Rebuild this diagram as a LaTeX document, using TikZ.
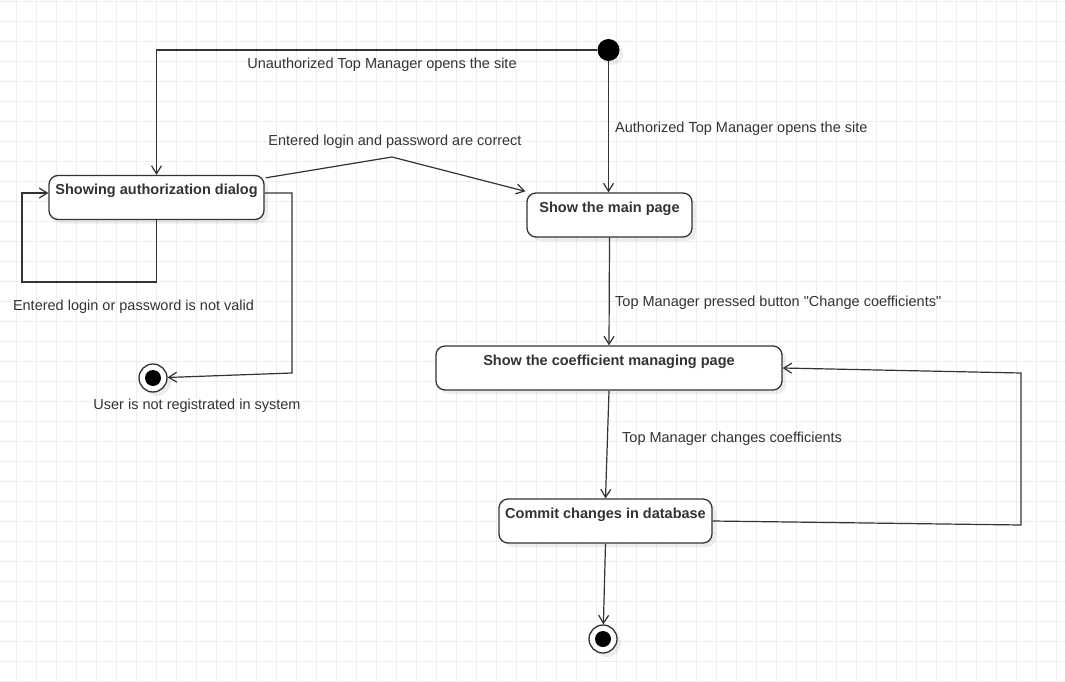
\documentclass[tikz,border=0pt]{standalone}
\usepackage{fontspec}
\setmainfont{Liberation Sans}
\usetikzlibrary{arrows.meta,shadows,calc}
\definecolor{ink}{HTML}{333333}
\definecolor{gridc}{HTML}{EEEEEE}

\begin{document}
\begin{tikzpicture}[x=1pt,y=-1pt,
  softshadow/.style={drop shadow={shadow xshift=4pt, shadow yshift=-4pt, fill=black, opacity=0.07}},
  state/.style={draw=ink, line width=1.3pt, rounded corners=9pt, fill=white,
    minimum height=44pt, inner xsep=0pt, inner ysep=4pt,
    text height=15pt, text depth=21pt, text=ink,
    font=\fontsize{14.5}{17}\selectfont\bfseries, softshadow},
  startnode/.style={circle, fill=black, minimum size=22pt, inner sep=0pt, softshadow},
  endnode/.style={circle, draw=ink, line width=1.3pt, fill=white, minimum size=28pt, inner sep=0pt, softshadow,
    path picture={\fill[black] (path picture bounding box.center) circle (8pt);}},
  lbl/.style={font=\fontsize{14.5}{17}\selectfont, text=ink, inner sep=0pt},
  flow/.style={draw=ink, line width=1.2pt, -{Straight Barb[length=8pt,width=10pt]}},
]
\useasboundingbox (0,0) rectangle (1065,682);
\fill[white] (0,0) rectangle (1065,682);

% background grid
\foreach \i in {1,...,53} \draw[gridc, line width=1pt] ({-4+20*\i},0) -- ({-4+20*\i},682);
\foreach \j in {0,...,34} \draw[gridc, line width=1pt] (0,{1.7+20*\j}) -- (1065,{1.7+20*\j});

% states
\node[startnode] (init) at (608.5,50) {};
\node[state, minimum width=215pt] (auth) at (156.5,197.5) {Showing authorization dialog};
\node[state, minimum width=165pt] (main) at (609.5,215) {Show the main page};
\node[state, minimum width=346pt] (coef) at (609,368) {Show the coefficient managing page};
\node[state, minimum width=213pt] (commit) at (605.5,521) {Commit changes in database};
\node[endnode] (fin1) at (153,378) {};
\node[endnode] (fin2) at (603,639) {};

% bend points
\coordinate (k1) at (392,157);
\coordinate (l1) at (22,282);
\coordinate (r1) at (292,373);
\coordinate (c1) at (1021,525);
\coordinate (c2) at (1021,373);

% transitions
\draw[flow] (init.west) -| (auth.north);
\draw[flow] (init.south) -- (init |- main.north);
\draw[flow] ($(auth.north east)+(1,3)$) -- (k1) -- ($(main.north west)+(-1,-1)$);
\draw[flow] (auth.south) -- (auth.south |- l1) -- (l1) |- ($(auth.west)+(0,-4.5)$);
\draw[flow] ($(auth.east)+(0,-4.5)$) -| (r1) -- (fin1);
\draw[flow] (main.south) -- (coef.north);
\draw[flow] (coef.south) -- (commit.north);
\draw[flow] (commit.east) -- (c1) -- (c2) -- (coef.east);
\draw[flow] (commit.south) -- (fin2);

% transition labels
\node[lbl] (t1) at (382,64.5) {Unauthorized Top Manager opens the site};
\node[lbl, anchor=west] (t2) at (615,128.5) {Authorized Top Manager opens the site};
\node[lbl] (t3) at (395,141.5) {Entered login and password are correct};
\node[lbl] (t4) at (133.5,306.5) {Entered login or password is not valid};
\node[lbl] (t5) at (197,405.5) {User is not registrated in system};
\node[lbl, anchor=west] (t6) at (615,302.5) {Top Manager pressed button \textquotedbl Change coefficients\textquotedbl};
\node[lbl, anchor=west] (t7) at (622,438.5) {Top Manager changes coefficients};
\end{tikzpicture}
\end{document}
